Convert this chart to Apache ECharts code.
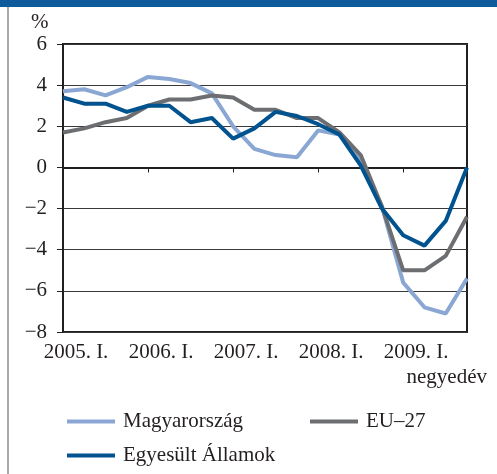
<!DOCTYPE html>
<html>
<head>
<meta charset="utf-8">
<script src="https://cdn.jsdelivr.net/npm/echarts@6/dist/echarts.min.js"></script>
<style>
  html, body { margin: 0; padding: 0; background: #fff; }
  #chart { width: 497px; height: 474px; }
</style>
</head>
<body>
<div id="chart"></div>
<script>
const quarters = [
    '2005. I.', '2005. II.', '2005. III.', '2005. IV.',
    '2006. I.', '2006. II.', '2006. III.', '2006. IV.',
    '2007. I.', '2007. II.', '2007. III.', '2007. IV.',
    '2008. I.', '2008. II.', '2008. III.', '2008. IV.',
    '2009. I.', '2009. II.', '2009. III.', '2009. IV.'
];
const hungary = [3.7, 3.8, 3.5, 3.9, 4.4, 4.3, 4.1, 3.6, 2.0, 0.9, 0.6, 0.5, 1.8, 1.6, 0.3, -1.9, -5.6, -6.8, -7.1, -5.4];
const eu27 = [1.7, 1.9, 2.2, 2.4, 3.0, 3.3, 3.3, 3.5, 3.4, 2.8, 2.8, 2.4, 2.4, 1.7, 0.6, -1.9, -5.0, -5.0, -4.3, -2.4];
const usa = [3.4, 3.1, 3.1, 2.7, 3.0, 3.0, 2.2, 2.4, 1.4, 1.9, 2.7, 2.5, 2.1, 1.6, 0.1, -2.0, -3.3, -3.8, -2.6, 0.0];

const font = 'Liberation Serif';
const textColor = '#231f20';

const chart = echarts.init(document.getElementById('chart'));

const legendBase = {
    orient: 'horizontal',
    icon: 'rect',
    itemWidth: 48,
    itemHeight: 4,
    textStyle: { fontFamily: font, fontSize: 21, color: textColor, padding: [0, 0, 0, 3] }
};

const option = {
    animation: false,
    textStyle: { fontFamily: font },
    graphic: [
        { type: 'rect', shape: { x: 0, y: 0, width: 497, height: 7 }, style: { fill: '#0f5a9a' } },
        { type: 'rect', shape: { x: 7, y: 7, width: 2, height: 467 }, style: { fill: '#a7a9ac' } },
        { type: 'text', left: 31, top: 12, style: { text: '%', font: '21px "Liberation Serif"', fill: textColor } },
        { type: 'text', right: 10, top: 367, style: { text: 'negyedév', font: '21px "Liberation Serif"', fill: textColor } }
    ],
    legend: [
        Object.assign({ data: ['Magyarország'], left: 62, top: 406 }, legendBase),
        Object.assign({ data: ['EU–27'], left: 305, top: 406 }, legendBase),
        Object.assign({ data: ['Egyesült Államok'], left: 62, top: 440 }, legendBase)
    ],
    grid: {
        left: 63,
        right: 30,
        top: 44,
        bottom: 142,
        show: true,
        borderColor: '#231f20',
        borderWidth: 2
    },
    xAxis: {
        type: 'category',
        data: quarters,
        boundaryGap: false,
        axisLine: { lineStyle: { color: '#231f20', width: 2 } },
        axisTick: { interval: 3, length: 5, lineStyle: { color: '#231f20', width: 1 } },
        axisLabel: {
            interval: 3,
            margin: 10,
            fontFamily: font,
            fontSize: 21,
            color: textColor,
            padding: [0, 0, 0, 26]
        },
        splitLine: { show: false }
    },
    yAxis: {
        type: 'value',
        min: -8,
        max: 6,
        interval: 2,
        axisLine: { show: true, lineStyle: { color: '#231f20', width: 2 } },
        axisTick: { show: true, length: 6, lineStyle: { color: '#231f20', width: 1 } },
        axisLabel: {
            margin: 16,
            fontFamily: font,
            fontSize: 21,
            color: textColor,
            formatter: v => (v < 0 ? '\u2212' + Math.abs(v) : String(v))
        },
        splitLine: { lineStyle: { color: '#3a3a3a', width: 1 } }
    },
    series: [
        {
            name: 'Magyarország',
            type: 'line',
            data: hungary,
            symbol: 'none',
            lineStyle: { width: 4, color: '#8aa7d3' },
            itemStyle: { color: '#8aa7d3' }
        },
        {
            name: 'EU–27',
            type: 'line',
            data: eu27,
            symbol: 'none',
            lineStyle: { width: 4, color: '#6d6e71' },
            itemStyle: { color: '#6d6e71' }
        },
        {
            name: 'Egyesült Államok',
            type: 'line',
            data: usa,
            symbol: 'none',
            lineStyle: { width: 4, color: '#00538f' },
            itemStyle: { color: '#00538f' }
        }
    ]
};

chart.setOption(option);
</script>
</body>
</html>
